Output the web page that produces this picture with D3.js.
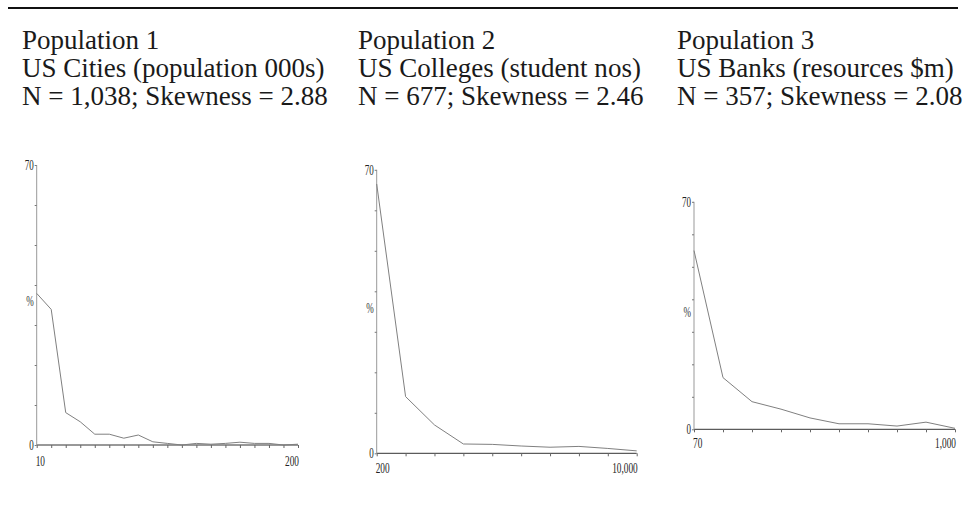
<!DOCTYPE html>
<html>
<head>
<meta charset="utf-8">
<script src="https://cdn.jsdelivr.net/npm/d3@7"></script>
<style>
  body { margin: 0; background: #fff; }
  svg { display: block; }
</style>
</head>
<body>
<svg id="chart" width="972" height="508"></svg>
<script>
// judul tiap panel
var titles = [
  ['Population 1', 'US Cities (population 000s)', 'N = 1,038; Skewness = 2.88'],
  ['Population 2', 'US Colleges (student nos)', 'N = 677; Skewness = 2.46'],
  ['Population 3', 'US Banks (resources $m)', 'N = 357; Skewness = 2.08']
];

// label sumbu x (ujung kiri dan kanan)
var xLabels = [['10', '200'], ['200', '10,000'], ['70', '1,000']];
var yTicks = [0, 10, 20, 30, 40, 50, 60, 70];
var yLabels = [0, 70];

// persentase per kelas
var pop1 = [37.9, 33.9, 8.1, 5.8, 2.7, 2.7, 1.7, 2.5, 0.8, 0.4, 0.0, 0.4, 0.2, 0.4, 0.7, 0.4, 0.4, 0.0, 0.2];
var pop2 = [66.5, 14.0, 7.0, 2.3, 2.2, 1.8, 1.5, 1.7, 1.2, 0.6];
var pop3 = [55.0, 15.9, 8.5, 6.2, 3.5, 1.7, 1.7, 1.0, 2.2, 0.3];
var series = [pop1, pop2, pop3];

// posisi panel (piksel)
var panels = [
  {tx: 22, ax: 36.7, x1: 298, base: 445, top: 165, lab: 21},
  {tx: 358, ax: 376.7, x1: 636.7, base: 453.3, top: 169.8, lab: 20},
  {tx: 677, ax: 694, x1: 955, base: 429.3, top: 201.8, lab: 19}
];

var svg = d3.select('#chart');

// garis atas
svg.append('line')
  .attr('x1', 8).attr('x2', 958)
  .attr('y1', 8).attr('y2', 8)
  .attr('stroke', '#111').attr('stroke-width', 2);

// cari ukuran font judul supaya lebarnya pas
var probe = svg.append('text')
  .attr('font-family', 'Liberation Serif, serif')
  .attr('font-size', 20)
  .text(titles[0][2]);
var titleSize = 20 * 306 / probe.node().getComputedTextLength();
probe.remove();

panels.forEach(function(p, i) {
  var g = svg.append('g');

  // judul
  g.selectAll('.title')
    .data(titles[i])
    .enter().append('text')
    .attr('class', 'title')
    .attr('x', p.tx)
    .attr('y', function(d, k) { return 49 + k * 28; })
    .attr('font-family', 'Liberation Serif, serif')
    .attr('font-size', titleSize)
    .attr('fill', '#1a1a1a')
    .text(function(d) { return d; });

  var data = series[i];
  var x = d3.scaleLinear()
    .domain([0, data.length - 1])
    .range([p.ax, p.x1]);
  var y = d3.scaleLinear()
    .domain([0, 70])
    .range([p.base, p.top]);

  // sumbu x
  var xAxis = d3.axisBottom(x)
    .tickValues(d3.range(data.length))
    .tickSize(3)
    .tickFormat('');
  var gx = g.append('g')
    .attr('transform', 'translate(0,' + p.base + ')')
    .call(xAxis);
  gx.select('.domain').attr('stroke', '#333').attr('d', 'M' + p.ax + ',0H' + p.x1);
  gx.selectAll('.tick line').attr('stroke', '#666');

  // sumbu y
  var yAxis = d3.axisLeft(y)
    .tickValues(yTicks)
    .tickSize(2)
    .tickFormat('');
  var gy = g.append('g')
    .attr('transform', 'translate(' + p.ax + ',0)')
    .call(yAxis);
  gy.select('.domain').attr('stroke', '#999').attr('d', 'M0,' + p.base + 'V' + p.top);
  gy.selectAll('.tick line').attr('stroke', '#777');

  // label sumbu y
  g.selectAll('.ylab')
    .data(yLabels)
    .enter().append('text')
    .attr('class', 'ylab')
    .attr('transform', function(d) {
      return 'translate(' + (p.ax - 3) + ',' + (y(d) + 5) + ') scale(0.6,1)';
    })
    .attr('text-anchor', 'end')
    .attr('font-family', 'Liberation Serif, serif')
    .attr('font-size', 15)
    .attr('fill', '#222')
    .text(function(d) { return d; });

  g.append('text')
    .attr('transform', 'translate(' + (p.ax - 3) + ',' + (y(36) + 5) + ') scale(0.6,1)')
    .attr('text-anchor', 'end')
    .attr('font-family', 'Liberation Serif, serif')
    .attr('font-size', 15)
    .attr('fill', '#333')
    .text('%');

  // label sumbu x
  g.selectAll('.xlab')
    .data(xLabels[i])
    .enter().append('text')
    .attr('class', 'xlab')
    .attr('transform', function(d, k) {
      var px = k === 0 ? x(0) - 1 : x(data.length - 1) + 1;
      return 'translate(' + px + ',' + (p.base + p.lab) + ') scale(0.62,1)';
    })
    .attr('text-anchor', function(d, k) { return k === 0 ? 'start' : 'end'; })
    .attr('font-family', 'Liberation Serif, serif')
    .attr('font-size', 15)
    .attr('fill', '#222')
    .text(function(d) { return d; });

  // garis distribusi
  var line = d3.line()
    .x(function(d, k) { return x(k); })
    .y(function(d) { return y(d); });
  g.append('path')
    .datum(data)
    .attr('fill', 'none')
    .attr('stroke', '#808080')
    .attr('stroke-width', 1)
    .attr('d', line);
});
</script>
</body>
</html>
